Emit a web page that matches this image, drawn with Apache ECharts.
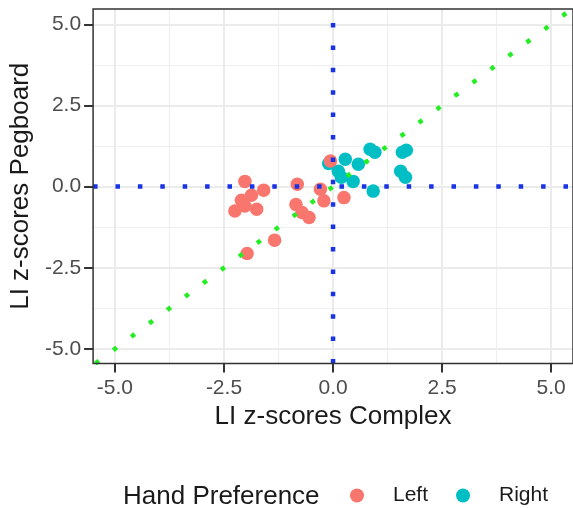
<!DOCTYPE html>
<html><head><meta charset="utf-8">
<script src="https://cdn.jsdelivr.net/npm/echarts@6/dist/echarts.min.js"></script>
<style>html,body{margin:0;padding:0;background:#fff}#c{width:573px;height:508px}</style>
</head><body><div id="c"></div>
<script>
// Data
const leftX  = [-2.02, -1.59, -2.10, -1.87, -2.25, -1.75, -2.02, -1.34, -1.97, -0.82, -0.85, -0.71, -0.55, -0.29, -0.21, 0.25, -0.06];
const leftY  = [ 0.16, -0.11, -0.42, -0.27, -0.75, -0.70, -0.60, -1.65, -2.06,  0.07, -0.55, -0.80, -0.95, -0.08, -0.44, -0.34, 0.79];
const rightX = [-0.10, 0.28, 0.12, 0.19, 0.46, 0.58, 0.92, 0.85, 0.96, 1.59, 1.68, 1.55, 1.66];
const rightY = [ 0.71, 0.84, 0.47, 0.29, 0.16, 0.69, -0.14, 1.15, 1.06, 1.06, 1.12, 0.47, 0.29];
const majorTicks = [-5, -2.5, 0, 2.5, 5];
const minorTicks = [-3.75, -1.25, 1.25, 3.75];
const xRange = [-5.5, 5.5];
const yRange = [-5.45, 5.47];
const hLine = [[-5.5, 0], [5.5, 0]];
const vLine = [[0, -5.45], [0, 5.47]];
const diagLine = [[-5.45, -5.45], [5.5, 5.5]];
const seriesNames = ['Left', 'Right'];
const legendTitle = 'Hand Preference';
const xTitle = 'LI z-scores Complex';
const yTitle = 'LI z-scores Pegboard';

const FONT = '"Liberation Sans", Arial, Helvetica, sans-serif';
const zip = (a, b) => a.map((v, i) => [v, b[i]]);

function labelAxis(range, name, isX) {
  return {
    type: 'value', min: range[0], max: range[1],
    position: isX ? 'bottom' : 'left',
    name: name, nameLocation: 'middle', nameGap: isX ? 40 : 58,
    nameTextStyle: { fontSize: 26, color: '#1a1a1a', fontFamily: FONT },
    axisLine: { show: false, onZero: false },
    axisTick: { show: true, customValues: majorTicks, length: 9, lineStyle: { color: '#333', width: 2 } },
    axisLabel: { show: true, customValues: majorTicks, fontSize: 21, color: '#4D4D4D', fontFamily: FONT,
      margin: isX ? 14 : 12, formatter: v => v.toFixed(1) },
    splitLine: { show: false },
    minorTick: { show: false }, minorSplitLine: { show: false }
  };
}
function gridLines(values, color, width) {
  return {
    type: 'line', data: [], z: 0, silent: true,
    markLine: {
      z: 0, silent: true, symbol: 'none', animation: false,
      label: { show: false },
      lineStyle: { color: color, width: width, type: 'solid' },
      emphasis: { disabled: true },
      data: values.map(v => ({ xAxis: v })).concat(values.map(v => ({ yAxis: v })))
    }
  };
}

const dotted = (color) => ({ color: color, width: 4.5, type: [4.5, 17.9], cap: 'butt' });

const chart = echarts.init(document.getElementById('c'), null, { renderer: 'canvas' });
chart.setOption({
  animation: false,
  backgroundColor: '#fff',
  grid: { left: 92.3, top: 9, width: 486.6, height: 354.5, show: true, borderColor: '#333', borderWidth: 1.5, backgroundColor: 'transparent', z: 6 },
  xAxis: labelAxis(xRange, xTitle, true),
  yAxis: labelAxis(yRange, yTitle, false),
  title: { text: legendTitle, left: 123, top: 484, padding: 0,
    textStyle: { fontSize: 26, fontWeight: 'normal', color: '#1a1a1a', fontFamily: FONT } },
  legend: { data: seriesNames, left: 350, top: 485, icon: 'circle', itemWidth: 14, itemHeight: 14, itemGap: 28,
    selectedMode: false, padding: 0,
    textStyle: { fontSize: 21, color: '#1a1a1a', fontFamily: FONT, padding: [0, 0, 0, 24] } },
  series: [
    gridLines(minorTicks, '#EFEFEF', 1.2),
    gridLines(majorTicks, '#EBEBEB', 2),
    { name: 'Right', type: 'scatter', data: zip(rightX, rightY), z: 2,
      symbol: 'circle', symbolSize: 13.5, itemStyle: { color: '#00BFC4', opacity: 1 } },
    { name: 'Left', type: 'scatter', data: zip(leftX, leftY), z: 2,
      symbol: 'circle', symbolSize: 13.5, itemStyle: { color: '#F8766D', opacity: 1 } },
    { type: 'line', data: hLine, symbol: 'none', lineStyle: dotted('#1733E3'), silent: true, z: 3 },
    { type: 'line', data: vLine, symbol: 'none', lineStyle: dotted('#1733E3'), silent: true, z: 3 },
    { type: 'line', data: diagLine, symbol: 'none', lineStyle: dotted('#22EE22'), silent: true, z: 3 }
  ]
});
</script></body></html>
